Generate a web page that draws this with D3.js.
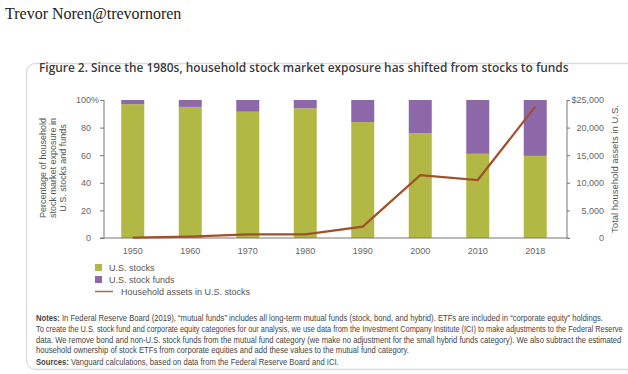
<!DOCTYPE html>
<html lang="en">
<head>
<meta charset="UTF-8">
<title>household stock exposure</title>
<script src="https://cdn.jsdelivr.net/npm/d3@7"></script>
<style>
  html, body { margin:0; padding:0; background:#fff; }
  svg { display:block; font-family:"Liberation Sans", Arial, sans-serif; }
  .tick text { fill:#666; font-size:9px; }
  .axis path, .axis line { stroke:#777; }
</style>
</head>
<body>
<svg id="chart" width="628" height="374"></svg>
<script>
// data
var years = ["1950", "1960", "1970", "1980", "1990", "2000", "2010", "2018"];
var stockPct = [97, 95, 91.5, 94, 84, 76, 61, 59.5];          // U.S. stocks, % of exposure
var fundPct = stockPct.map(function(v){ return 100 - v; });   // U.S. stock funds (rest up to 100%)
var assets = [50, 250, 650, 650, 2050, 11400, 10500, 23800]; // household assets, $ billions
var leftTicks = [0, 20, 40, 60, 80, 100];
var rightTicks = [0, 5000, 10000, 15000, 20000, 25000];

var green = "#b1b843", purple = "#8d68a9", rust = "#a24f2c";

var svg = d3.select("#chart");

// header handle
svg.append("text")
  .attr("x", 5).attr("y", 19)
  .style("font-family", "'Liberation Serif', 'Times New Roman', serif")
  .style("font-size", "16px").style("fill", "#222")
  .text("Trevor Noren@trevornoren");

// card
svg.append("rect")
  .attr("x", 26.5).attr("y", 63.5).attr("width", 640).attr("height", 306)
  .attr("rx", 9)
  .style("fill", "#fff").style("stroke", "#dcdcdc").style("stroke-width", 1.3);

// squeeze a text horizontally so it spans w pixels
function fitWidth(t, x0, y0, w) {
  var nat = t.node().getComputedTextLength();
  t.attr("transform", "translate(" + x0 + "," + y0 + ") scale(" + (w / nat) + ",1)");
  return w / nat;
}

var title = svg.append("text")
  .style("font-family", "'Open Sans', 'Liberation Sans', sans-serif")
  .style("font-size", "12px").style("font-weight", 600).style("fill", "#3b3b3b")
  .text("Figure 2. Since the 1980s, household stock market exposure has shifted from stocks to funds");
fitWidth(title, 39, 72, 530);

// scales
var x = d3.scaleBand().domain(years).range([104, 564]).paddingInner(0.6).paddingOuter(0.3);
var yL = d3.scaleLinear().domain([0, 100]).range([238, 100]);
var yR = d3.scaleLinear().domain([0, 25000]).range([238, 100]);

// bars
var g = svg.append("g");
g.selectAll(".stock").data(years).enter().append("rect")
  .attr("class", "stock")
  .attr("x", function(d){ return x(d); })
  .attr("width", x.bandwidth())
  .attr("y", function(d, i){ return yL(stockPct[i]); })
  .attr("height", function(d, i){ return yL(0) - yL(stockPct[i]); })
  .style("fill", green);
g.selectAll(".fund").data(years).enter().append("rect")
  .attr("class", "fund")
  .attr("x", function(d){ return x(d); })
  .attr("width", x.bandwidth())
  .attr("y", function(d, i){ return yL(stockPct[i] + fundPct[i]); })
  .attr("height", function(d, i){ return yL(stockPct[i]) - yL(stockPct[i] + fundPct[i]); })
  .style("fill", purple);

// axes
var leftAxis = svg.append("g").attr("class", "axis").attr("transform", "translate(104,0)")
  .call(d3.axisLeft(yL).tickValues(leftTicks).tickSize(4).tickPadding(9)
        .tickFormat(function(d){ return d; }));
leftAxis.select(".domain").attr("d", "M0,100V238");
leftAxis.selectAll(".tick").filter(function(d){ return d === 100; })
  .append("text").attr("x", -13).attr("dy", "0.32em")
  .style("text-anchor", "start").text("%");

var rightAxis = svg.append("g").attr("class", "axis").attr("transform", "translate(567,0)")
  .call(d3.axisRight(yR).tickValues(rightTicks).tickSize(3).tickPadding(0)
        .tickFormat(function(d){ return d === 25000 ? "$25,000" : d3.format(",")(d); }));
rightAxis.select(".domain").attr("d", "M0,100V238");
rightAxis.selectAll(".tick text").attr("x", 37).style("text-anchor", "end");

var bottom = svg.append("g").attr("class", "axis").attr("transform", "translate(0,238)")
  .call(d3.axisBottom(x).tickSize(0).tickPadding(10));
bottom.select(".domain").attr("d", "M100,0H569");

// line
var line = d3.line()
  .x(function(d, i){ return x(years[i]) + x.bandwidth() / 2; })
  .y(function(d){ return yR(d); });
svg.append("path").datum(assets)
  .attr("d", line)
  .style("fill", "none").style("stroke", rust).style("stroke-width", 2.2);

// axis titles
var lt = svg.append("text")
  .attr("transform", "translate(0,168) rotate(-90)")
  .style("font-size", "9px").style("fill", "#555").style("text-anchor", "middle");
["Percentage of household", "stock market exposure in", "U.S. stocks and funds"].forEach(function(s, i){
  lt.append("tspan").attr("x", 0).attr("y", 46 + i * 10).text(s);
});
svg.append("text")
  .attr("transform", "translate(618,169) rotate(-90)")
  .style("font-size", "9.5px").style("fill", "#555").style("text-anchor", "middle")
  .text("Total household assets in U.S.");

// legend
var legend = svg.append("g").style("font-size", "9px").style("fill", "#555");
legend.append("rect").attr("x", 95).attr("y", 264).attr("width", 7).attr("height", 7).style("fill", green);
legend.append("text").attr("x", 109).attr("y", 271).text("U.S. stocks");
legend.append("rect").attr("x", 95).attr("y", 276).attr("width", 7).attr("height", 7).style("fill", purple);
legend.append("text").attr("x", 109).attr("y", 283).text("U.S. stock funds");
legend.append("line").attr("x1", 95).attr("x2", 113).attr("y1", 291.5).attr("y2", 291.5)
  .style("stroke", "#a8684f").style("stroke-width", 1.5);
legend.append("text").attr("x", 121).attr("y", 295).text("Household assets in U.S. stocks");

// notes
var notes = [
  [["Notes:", true], [" In Federal Reserve Board (2019), \u201cmutual funds\u201d includes all long-term mutual funds (stock, bond, and hybrid). ETFs are included in \u201ccorporate equity\u201d holdings.", false]],
  [["To create the U.S. stock fund and corporate equity categories for our analysis, we use data from the Investment Company Institute (ICI) to make adjustments to the Federal Reserve", false]],
  [["data. We remove bond and non-U.S. stock funds from the mutual fund category (we make no adjustment for the small hybrid funds category). We also subtract the estimated", false]],
  [["household ownership of stock ETFs from corporate equities and add these values to the mutual fund category.", false]],
  [["Sources:", true], [" Vanguard calculations, based on data from the Federal Reserve Board and ICI.", false]]
];
var noteY = [321, 332, 343, 353, 365];
var ratio = null;
notes.forEach(function(parts, i){
  var t = svg.append("text").style("font-size", "8.5px").style("fill", "#444");
  parts.forEach(function(p){
    t.append("tspan").style("font-weight", p[1] ? "bold" : "normal").text(p[0]);
  });
  var nat = t.node().getComputedTextLength();
  if (ratio === null) ratio = 568 / nat;
  var w = Math.min(nat * ratio, 588);   // keep the long second line inside the page
  t.attr("transform", "translate(36," + noteY[i] + ") scale(" + (w / nat) + ",1)");
});
</script>
</body>
</html>
